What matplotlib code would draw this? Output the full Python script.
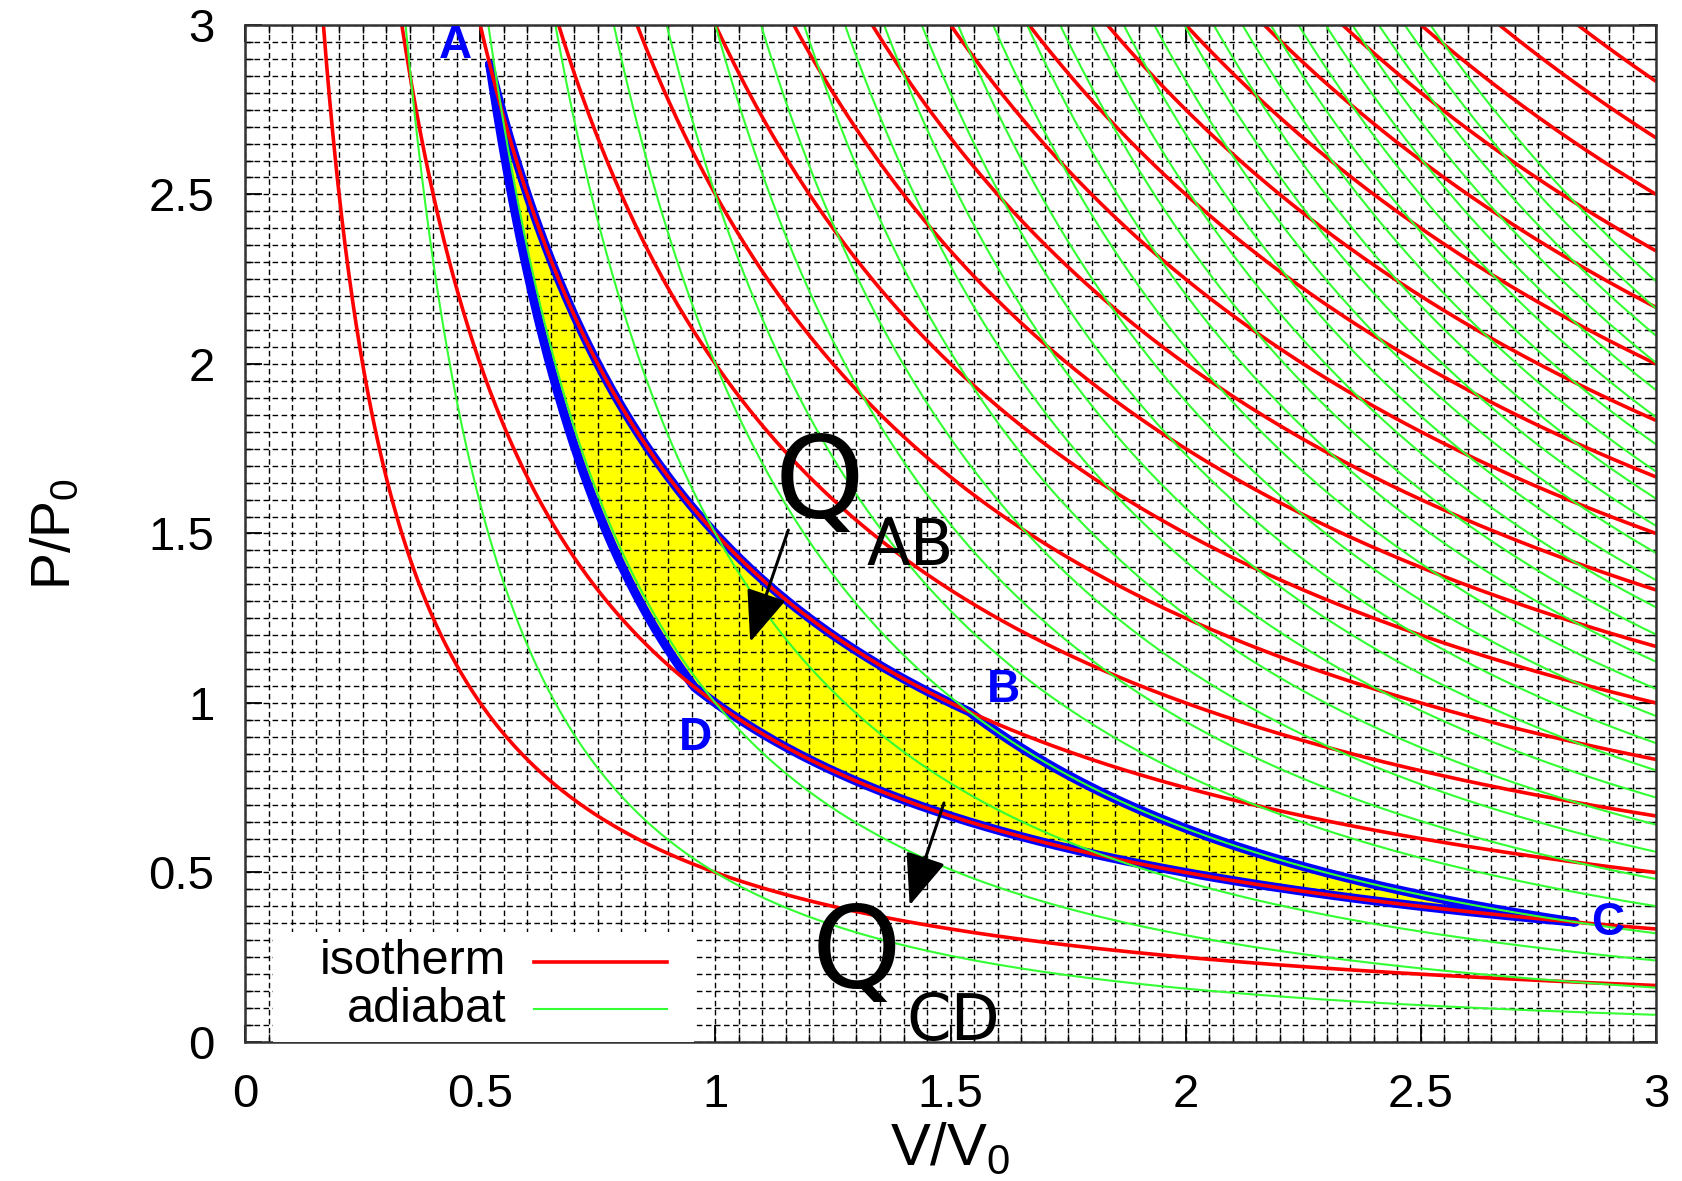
import numpy as np
import matplotlib
matplotlib.use("Agg")
import matplotlib.pyplot as plt
from matplotlib.patches import Rectangle
from matplotlib.lines import Line2D

# ---------------- data ----------------
isotherm_T = [0.5, 1.0, 1.5, 2.0, 2.5, 3.0, 3.5, 4.0, 4.5, 5.0, 5.5, 6.0,
              6.5, 7.0, 7.5, 8.0, 8.5]
adiabat_K = [0.5, 1.0, 1.5, 2.0, 2.5, 3.0, 3.5, 4.0, 4.5, 5.0, 5.5, 6.0,
             6.5, 7.0, 7.5, 8.0, 8.5, 9.0, 9.5, 10.0, 10.5, 11.0, 11.5,
             12.0, 12.5, 13.0, 13.5, 14.0]
gamma = 5.0 / 3.0
cycle_T = [1.5, 1.0]      # hot (A->B), cold (C->D)
cycle_K = [0.97, 2.0]     # D->A, B->C
point_names = ["A", "B", "C", "D"]
point_label_V = [0.448, 1.612, 2.898, 0.957]
point_label_P = [2.939, 1.038, 0.351, 0.897]
xtick_vals = [0, 0.5, 1, 1.5, 2, 2.5, 3]
ytick_vals = [0, 0.5, 1, 1.5, 2, 2.5, 3]
xtick_labels = ["0", "0.5", "1", "1.5", "2", "2.5", "3"]
ytick_labels = ["0", "0.5", "1", "1.5", "2", "2.5", "3"]

RED = "#ff0000"
GREEN = "#33ff33"
BLUE = "#0000ff"
YELLOW = "#ffff00"

plt.rcParams["font.family"] = ["Liberation Sans", "DejaVu Sans"]
plt.rcParams["mathtext.fontset"] = "custom"
plt.rcParams["mathtext.rm"] = "Liberation Sans"
plt.rcParams["mathtext.it"] = "Liberation Sans"

fig = plt.figure(figsize=(16.83, 11.81), dpi=100)
ax = fig.add_axes([0.1456, 0.1177, 0.8384, 0.8612])
ax.set_xlim(0, 3)
ax.set_ylim(0, 3)

V = np.linspace(0.02, 3.0, 1500)

# isotherms and adiabats
for T in isotherm_T:
    ax.plot(V, T / V, color=RED, lw=2.6, zorder=3, solid_capstyle="butt")
for K in adiabat_K:
    ax.plot(V, K / V ** gamma, color=GREEN, lw=1.5, zorder=3)

# cycle
Th, Tc = cycle_T
K1, K2 = cycle_K
VA = (K1 / Th) ** (1 / (gamma - 1))
VB = (K2 / Th) ** (1 / (gamma - 1))
VC = (K2 / Tc) ** (1 / (gamma - 1))
VD = (K1 / Tc) ** (1 / (gamma - 1))
vab = np.linspace(VA, VB, 200)
vbc = np.linspace(VB, VC, 200)
vcd = np.linspace(VC, VD, 200)
vda = np.linspace(VD, VA, 200)
cv = np.concatenate([vab, vbc, vcd, vda])
cp = np.concatenate([Th / vab, K2 / vbc ** gamma, Tc / vcd, K1 / vda ** gamma])
ax.fill(cv, cp, color=YELLOW, zorder=0.2, lw=0)
ax.plot(cv, cp, color=BLUE, lw=6.5, zorder=2, solid_joinstyle="round",
        solid_capstyle="round")

# grid
ax.set_axisbelow(True)
ax.set_xticks(xtick_vals)
ax.set_yticks(ytick_vals)
ax.set_xticklabels(xtick_labels)
ax.set_yticklabels(ytick_labels)
ax.set_xticks(np.arange(0, 3.001, 0.05), minor=True)
ax.set_yticks(np.arange(0, 3.001, 0.05), minor=True)
ax.grid(which="both", color="black", lw=1.0, linestyle=(0, (4, 2.5)))
ax.tick_params(which="both", direction="in", top=True, right=True,
               labelsize=34, colors="black")
ax.tick_params(which="major", length=12, width=1.3, pad=22)
ax.tick_params(which="minor", length=6, width=1.0)
for s in ax.spines.values():
    s.set_linewidth(1.8)
    s.set_color("#333333")
    s.set_zorder(4)

ax.set_xlabel(r"V/V$_\mathrm{0}$", fontsize=43, labelpad=3)
ax.set_ylabel(r"P/P$_\mathrm{0}$", fontsize=40, labelpad=48)

# point labels
for name, pv, pp in zip(point_names, point_label_V, point_label_P):
    ax.text(pv, pp, name, color=BLUE, fontsize=33, fontweight="bold",
            ha="center", va="center", zorder=6)

# Q labels and arrows
ax.text(1.125, 1.545, "Q", fontsize=82, family="DejaVu Sans", ha="left",
        va="baseline", zorder=6)
ax.text(1.322, 1.407, "AB", fontsize=46, family="DejaVu Sans", ha="left",
        va="baseline", zorder=6)
ax.text(1.205, 0.158, "Q", fontsize=82, family="DejaVu Sans", ha="left",
        va="baseline", zorder=6)
ax.text(1.405, 0.006, "CD", fontsize=46, family="DejaVu Sans", ha="left",
        va="baseline", zorder=6, clip_on=False)
arrow_kw = dict(arrowstyle="-|>,head_length=0.4,head_width=0.16",
                mutation_scale=80, color="black", lw=2.2, shrinkA=0, shrinkB=0)
ax.annotate("", xy=(1.074, 1.18), xytext=(1.155, 1.51),
            arrowprops=arrow_kw, zorder=6)
ax.annotate("", xy=(1.413, 0.403), xytext=(1.486, 0.705),
            arrowprops=arrow_kw, zorder=6)

# legend (white box, right-aligned labels, line samples)
ax.add_patch(Rectangle((0.02, 0.0), 0.298, 0.108, transform=ax.transAxes,
                       facecolor="white", edgecolor="none", zorder=5))
leg_names = ["isotherm", "adiabat"]
leg_colors = [RED, GREEN]
leg_lw = [2.6, 1.5]
leg_y = [0.079, 0.032]
for nm, c, lw_, yy in zip(leg_names, leg_colors, leg_lw, leg_y):
    ax.text(0.185, yy, nm, transform=ax.transAxes, fontsize=35, ha="right",
            va="center", zorder=6)
    ax.add_line(Line2D([0.205, 0.299], [yy, yy], transform=ax.transAxes,
                       color=c, lw=lw_, zorder=6))

fig.savefig("out.png", dpi=100)
